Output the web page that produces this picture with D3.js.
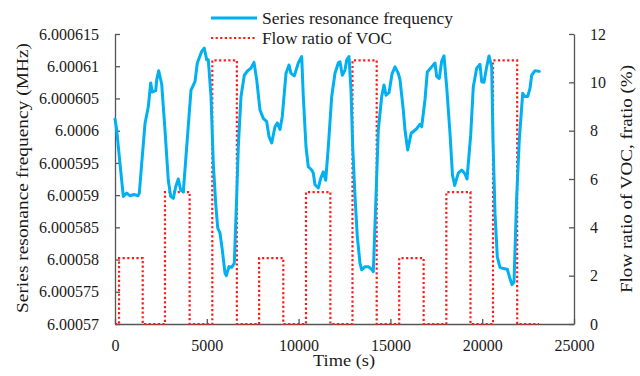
<!DOCTYPE html>
<html>
<head>
<meta charset="utf-8">
<script src="https://cdn.jsdelivr.net/npm/d3@7"></script>
<style>
  html, body { margin: 0; padding: 0; background: #fff; }
  svg { display: block; }
  svg text { font-family: "Liberation Serif", "DejaVu Serif", serif !important; fill: #1a1a1a; }
</style>
</head>
<body>
<svg id="chart" width="640" height="376"></svg>
<script>
// Elapsed time (s) and series resonance frequency (MHz)
const timeSec = [
  0, 93, 272, 452, 637, 817, 1035, 1253, 1324, 1454, 1634, 1814, 1944, 2032, 2217, 2271, 2380, 2489, 2544,
  2723, 2903, 3034, 3175, 3306, 3448, 3578, 3720, 3905, 4139, 4357, 4483, 4722, 4864, 4994, 5082, 5229,
  5354, 5485, 5594, 5719, 5844, 5991, 6062, 6209, 6356, 6498, 6629, 6716, 6863, 7042, 7228, 7407, 7571,
  7718, 7898, 8077, 8262, 8388, 8535, 8715, 8840, 8987, 9112, 9314, 9477, 9586, 9766, 9984, 10169, 10256,
  10403, 10528, 10714, 10801, 10893, 11073, 11204, 11345, 11476, 11618, 11803, 11983, 12162, 12255, 12380,
  12527, 12620, 12745, 12854, 12947, 13072, 13197, 13344, 13437, 13617, 13796, 13981, 14069, 14216, 14341,
  14526, 14652, 14761, 14924, 15088, 15251, 15430, 15523, 15703, 15795, 15942, 16132, 16432, 16612, 16704,
  16884, 17009, 17249, 17429, 17521, 17663, 17793, 17919, 18066, 18246, 18382, 18502, 18698, 18883, 19063,
  19172, 19373, 19515, 19700, 19880, 19972, 20098, 20245, 20370, 20517, 20588, 20697, 20822, 20969, 21149,
  21367, 21487, 21623, 21732, 21879, 22021, 22206, 22331, 22478, 22604, 22696, 22876, 23110
];
const resonanceMHz = [
  6.0006018, 6.0006001, 6.0005949, 6.0005898, 6.0005903, 6.0005899, 6.0005901, 6.0005899, 6.0005903, 6.0005949,
  6.0006011, 6.0006037, 6.0006074, 6.0006060, 6.0006062, 6.0006079, 6.0006093, 6.0006079, 6.0006072,
  6.0006001, 6.0005923, 6.0005898, 6.0005895, 6.0005913, 6.0005925, 6.0005908, 6.0005905, 6.0005975,
  6.0006063, 6.0006076, 6.0006105, 6.0006123, 6.0006128, 6.0006110, 6.0006110, 6.0006053,
  6.0005949, 6.0005887, 6.0005849, 6.0005841, 6.0005815, 6.0005779, 6.0005775, 6.0005789, 6.0005788,
  6.0005794, 6.0005898, 6.0005975, 6.0006053, 6.0006086, 6.0006093, 6.0006097, 6.0006106,
  6.0006079, 6.0006032, 6.0006019, 6.0006014, 6.0005991, 6.0005981, 6.0006006, 6.0006012, 6.0006002,
  6.0006022, 6.0006089, 6.0006102, 6.0006089, 6.0006085, 6.0006105, 6.0006115, 6.0006053,
  6.0005975, 6.0005944, 6.0005939, 6.0005934, 6.0005916, 6.0005911, 6.0005926, 6.0005936, 6.0005923,
  6.0005975, 6.0006053, 6.0006089, 6.0006105, 6.0006107, 6.0006086,
  6.0006094, 6.0006110, 6.0006115, 6.0006063, 6.0005975, 6.0005898, 6.0005836, 6.0005794, 6.0005784,
  6.0005789, 6.0005789, 6.0005785, 6.0005781, 6.0005898, 6.0006001,
  6.0006053, 6.0006071, 6.0006055, 6.0006059, 6.0006088, 6.0006099, 6.0006089, 6.0006079, 6.0006032,
  6.0006001, 6.0005970, 6.0005996, 6.0006003, 6.0006010, 6.0006006,
  6.0006048, 6.0006091, 6.0006099, 6.0006105, 6.0006084, 6.0006081, 6.0006108, 6.0006116, 6.0006068,
  6.0005996, 6.0005931, 6.0005915, 6.0005934, 6.0005939, 6.0005933,
  6.0005925, 6.0005993, 6.0006068, 6.0006097, 6.0006103, 6.0006076, 6.0006075, 6.0006099, 6.0006116,
  6.0006099, 6.0005986, 6.0005872, 6.0005804, 6.0005788, 6.0005786,
  6.0005785, 6.0005773, 6.0005761, 6.0005765, 6.0005898, 6.0005986, 6.0006058, 6.0006053, 6.0006053,
  6.0006066, 6.0006086, 6.0006093, 6.0006092
];

// VOC flow ratio (%) schedule: each level holds from its start time until the next start
const vocStartSec = [0, 220, 1510, 2723, 4065, 5300, 6637, 7850, 9167, 10403, 11730, 12935, 14253,
  15480, 16810, 18047, 19362, 20588, 21905, 23100];
const vocRatio = [0, 2.73, 0, 5.46, 0, 10.91, 0, 2.73, 0, 5.46, 0, 10.91, 0,
  2.73, 0, 5.46, 0, 10.91, 0, 0];

// Axis ticks
const timeTicks = [0, 5000, 10000, 15000, 20000, 25000];
const freqTicks = [6.00057, 6.000575, 6.00058, 6.000585, 6.00059, 6.000595, 6.0006, 6.000605, 6.00061, 6.000615];
const freqTickLabels = ["6.00057", "6.000575", "6.00058", "6.000585", "6.00059", "6.000595", "6.0006", "6.000605", "6.00061", "6.000615"];
const ratioTicks = [0, 2, 4, 6, 8, 10, 12];

const seriesNames = ["Series resonance frequency", "Flow ratio of VOC"];

const svg = d3.select("#chart");
const plot = { left: 115, right: 574, top: 34, bottom: 324 };

const x = d3.scaleLinear().domain([0, 25000]).range([plot.left, plot.right]);
const yFreq = d3.scaleLinear().domain([6.00057, 6.000615]).range([plot.bottom, plot.top]);
const yRatio = d3.scaleLinear().domain([0, 12]).range([plot.bottom, plot.top]);

const axisColor = "#555";
const serif = "'Liberation Serif', 'DejaVu Serif', serif";

function styleAxis(g) {
  g.attr("font-family", serif).attr("font-size", 16);
  g.select(".domain").attr("stroke", axisColor).attr("stroke-width", 1.3);
  g.selectAll(".tick line").attr("stroke", axisColor).attr("stroke-width", 1.3);
  g.selectAll(".tick text")
    .style("font-family", serif)
    .style("font-size", "16px")
    .attr("fill", "#1a1a1a");
}

// Left axis: frequency
svg.append("g")
  .attr("transform", `translate(${plot.left},0)`)
  .call(d3.axisLeft(yFreq).tickValues(freqTicks)
    .tickFormat((d, i) => freqTickLabels[i])
    .tickSizeInner(-5).tickSizeOuter(0).tickPadding(16))
  .call(styleAxis);

// Right axis: flow ratio
svg.append("g")
  .attr("transform", `translate(${plot.right},0)`)
  .call(d3.axisRight(yRatio).tickValues(ratioTicks)
    .tickFormat(d3.format("d"))
    .tickSizeInner(-5).tickSizeOuter(0).tickPadding(16))
  .call(styleAxis);

// Bottom axis: time
svg.append("g")
  .attr("transform", `translate(0,${plot.bottom})`)
  .call(d3.axisBottom(x).tickValues(timeTicks)
    .tickFormat(d3.format("d"))
    .tickSizeInner(-5).tickSizeOuter(0).tickPadding(16))
  .call(styleAxis);

// VOC flow ratio step trace
const vocData = vocStartSec.map((t, i) => ({ t, v: vocRatio[i] }));
svg.append("path")
  .datum(vocData)
  .attr("fill", "none")
  .attr("stroke", "#ff1a1a")
  .attr("stroke-width", 2.2)
  .attr("stroke-dasharray", "2.2,2.4")
  .attr("d", d3.line().x(d => x(d.t)).y(d => yRatio(d.v)).curve(d3.curveStepAfter));

// Resonance frequency trace
const freqData = timeSec.map((t, i) => ({ t, f: resonanceMHz[i] }));
svg.append("path")
  .datum(freqData)
  .attr("fill", "none")
  .attr("stroke", "#00b0f0")
  .attr("stroke-width", 3)
  .attr("stroke-linejoin", "round")
  .attr("stroke-linecap", "round")
  .attr("d", d3.line().x(d => x(d.t)).y(d => yFreq(d.f)));

// Legend
const legend = svg.append("g");
legend.append("line")
  .attr("x1", 211).attr("x2", 257).attr("y1", 18).attr("y2", 18)
  .attr("stroke", "#00b0f0").attr("stroke-width", 3);
legend.append("line")
  .attr("x1", 211).attr("x2", 257).attr("y1", 38).attr("y2", 38)
  .attr("stroke", "#ff1a1a").attr("stroke-width", 2.2).attr("stroke-dasharray", "2.2,2.4");
legend.append("text")
  .attr("x", 262).attr("y", 23.5).attr("font-size", 16)
  .attr("textLength", 191).attr("lengthAdjust", "spacingAndGlyphs")
  .text(seriesNames[0]);
legend.append("text")
  .attr("x", 262).attr("y", 43.5).attr("font-size", 16)
  .attr("textLength", 130).attr("lengthAdjust", "spacingAndGlyphs")
  .text(seriesNames[1]);

// Axis titles
svg.append("text")
  .attr("transform", "translate(28,178) rotate(-90)")
  .attr("text-anchor", "middle").attr("font-size", 17)
  .attr("textLength", 270).attr("lengthAdjust", "spacingAndGlyphs")
  .text("Series resonance frequency (MHz)");
svg.append("text")
  .attr("transform", "translate(632,179) rotate(-90)")
  .attr("text-anchor", "middle").attr("font-size", 17)
  .attr("textLength", 228).attr("lengthAdjust", "spacingAndGlyphs")
  .text("Flow ratio of VOC, fratio (%)");
svg.append("text")
  .attr("x", 344).attr("y", 366)
  .attr("text-anchor", "middle").attr("font-size", 17)
  .attr("textLength", 62).attr("lengthAdjust", "spacingAndGlyphs")
  .text("Time (s)");
</script>
</body>
</html>
